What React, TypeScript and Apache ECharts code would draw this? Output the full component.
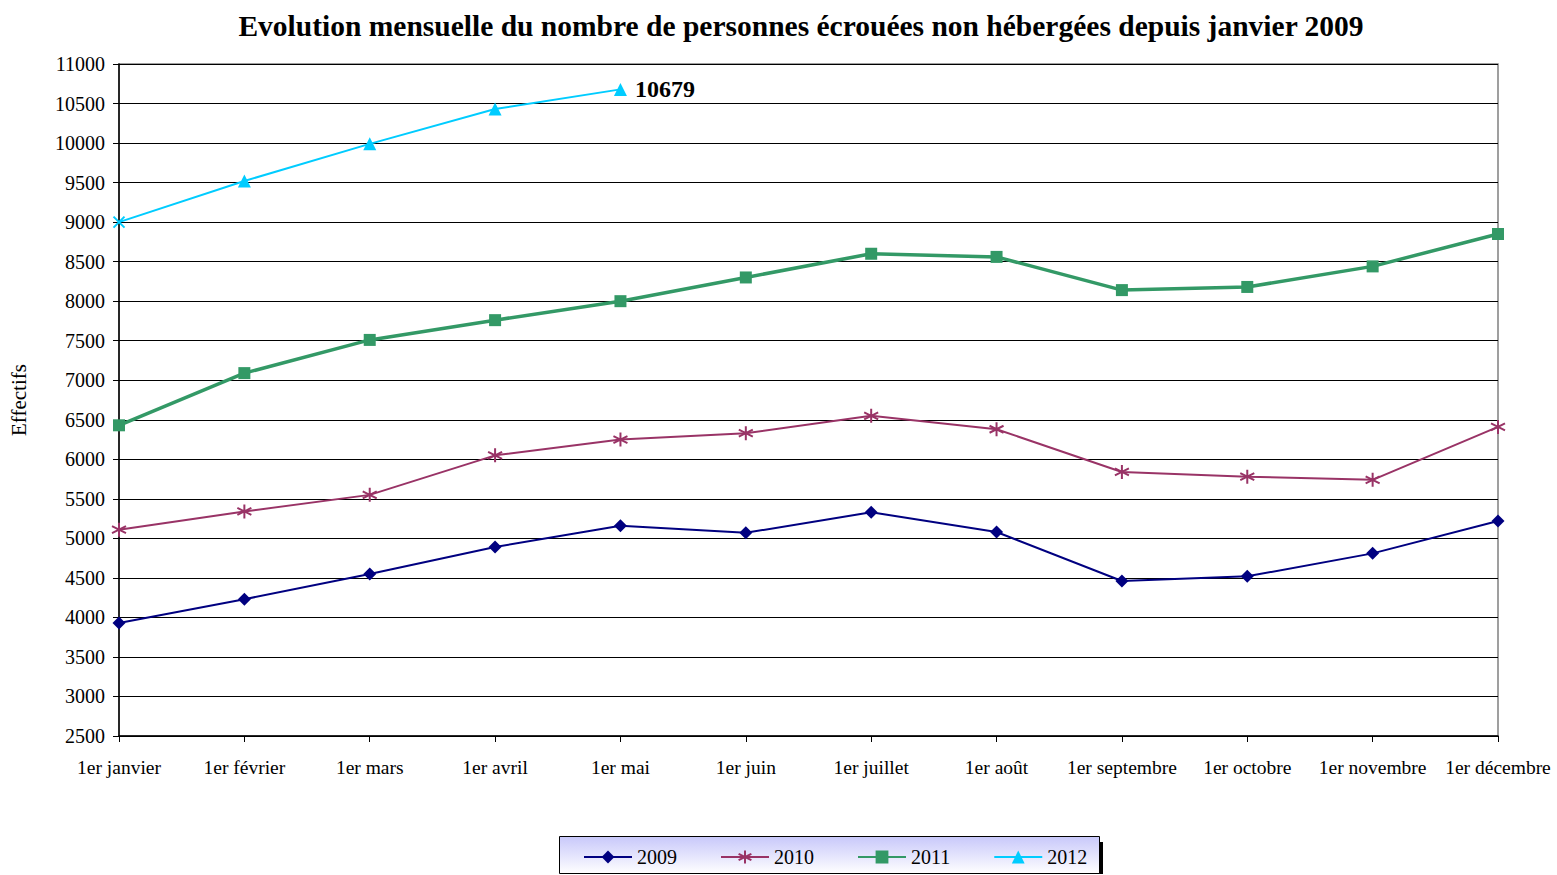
import React, { useEffect, useRef } from "react";
import * as echarts from "echarts";

const months = [
  "1er janvier", "1er février", "1er mars", "1er avril", "1er mai", "1er juin",
  "1er juillet", "1er août", "1er septembre", "1er octobre", "1er novembre", "1er décembre",
];
const s2009 = [3930, 4230, 4550, 4890, 5160, 5070, 5330, 5080, 4460, 4520, 4810, 5220];
const s2010 = [5110, 5340, 5550, 6050, 6250, 6330, 6550, 6380, 5840, 5780, 5740, 6410];
const s2011 = [6430, 7090, 7510, 7760, 8000, 8300, 8600, 8560, 8140, 8180, 8440, 8850];
const s2012 = [9000, 9520, 9990, 10430, 10679];

const FONT = "'Liberation Serif', 'Times New Roman', serif";
const ASTERISK = "path://M0,-10L0,10M-8.7,-5L8.7,5M-8.7,5L8.7,-5";
const XMARK = "path://M-10,-10L10,10M-10,10L10,-10";

export default function App() {
  const ref = useRef<HTMLDivElement>(null);
  useEffect(() => {
    const chart = echarts.init(ref.current!, null, { renderer: "svg" });
    chart.setOption({
      animation: false,
      backgroundColor: "#ffffff",
      textStyle: { fontFamily: FONT, color: "#000" },
      grid: {
        left: 119, right: 59, top: 64, bottom: 139,
        show: true, borderColor: "#808080", borderWidth: 1.5,
      },
      graphic: [
        {
          type: "text", x: 801, y: 26, z: 10,
          style: {
            text: "Evolution mensuelle du nombre de personnes écrouées non hébergées depuis janvier 2009",
            fontFamily: FONT, fontWeight: "bold", fontSize: 29.5, fill: "#000",
            textAlign: "center", textVerticalAlign: "middle",
          },
        },
        { type: "rect", shape: { x: 1099, y: 842, width: 4, height: 32 }, style: { fill: "#000" }, z: 0 },
        {
          type: "rect", shape: { x: 559.5, y: 836.5, width: 540, height: 37 }, z: 0,
          style: {
            fill: new echarts.graphic.LinearGradient(0, 0, 0, 1, [
              { offset: 0, color: "#c8c8fa" },
              { offset: 1, color: "#ffffff" },
            ]),
            stroke: "#000", lineWidth: 1,
          },
        },
      ],
      legend: {
        left: 578, top: 842, itemWidth: 48, itemHeight: 16, itemGap: 43,
        textStyle: { fontFamily: FONT, fontSize: 20, color: "#000", padding: [0, 0, 0, 0] },
        data: ["2009", "2010", "2011", "2012"],
        z: 5,
      },
      xAxis: {
        type: "category", data: months, boundaryGap: false,
        axisLine: { lineStyle: { color: "#000", width: 1.5 } },
        axisTick: { show: true, length: 6, alignWithLabel: true, lineStyle: { color: "#000" } },
        axisLabel: { fontFamily: FONT, fontSize: 19.5, color: "#000", margin: 21, interval: 0 },
        splitLine: { show: false },
      },
      yAxis: {
        type: "value", min: 2500, max: 11000, interval: 500,
        name: "Effectifs", nameLocation: "middle", nameGap: 90,
        nameTextStyle: { fontFamily: FONT, fontSize: 21, color: "#000" },
        axisLine: { show: true, lineStyle: { color: "#000", width: 1.5 } },
        axisTick: { show: true, length: 6, lineStyle: { color: "#000" } },
        axisLabel: {
          fontFamily: FONT, fontSize: 20, color: "#000", margin: 14,
          formatter: (v: number) => String(v),
        },
        splitLine: { show: true, lineStyle: { color: "#000", width: 1 } },
      },
      series: [
        {
          name: "2009", type: "line", data: s2009,
          symbol: "diamond", symbolSize: 13,
          itemStyle: { color: "#000080" },
          lineStyle: { color: "#000080", width: 2 },
        },
        {
          name: "2010", type: "line", data: s2010,
          symbol: ASTERISK, symbolSize: 14,
          itemStyle: { color: "#993366", borderColor: "#993366", borderWidth: 2 },
          lineStyle: { color: "#993366", width: 2 },
        },
        {
          name: "2011", type: "line", data: s2011,
          symbol: "rect", symbolSize: 12,
          itemStyle: { color: "#339966" },
          lineStyle: { color: "#339966", width: 3.5 },
        },
        {
          name: "2012", type: "line",
          data: s2012.map((v, i) =>
            i === 0
              ? { value: v, symbol: XMARK, symbolSize: 11, itemStyle: { color: "#00ccff", borderColor: "#00ccff", borderWidth: 2 } }
              : i === s2012.length - 1
              ? {
                  value: v,
                  label: {
                    show: true, position: "right", distance: 8,
                    fontFamily: FONT, fontSize: 24, fontWeight: "bold", color: "#000",
                  },
                }
              : v
          ),
          symbol: "triangle", symbolSize: 13,
          itemStyle: { color: "#00ccff" },
          lineStyle: { color: "#00ccff", width: 2 },
        },
      ],
    });
    return () => chart.dispose();
  }, []);
  return (
    <div
      ref={ref}
      style={{ position: "absolute", left: 0, top: 0, width: 1557, height: 875 }}
    />
  );
}
